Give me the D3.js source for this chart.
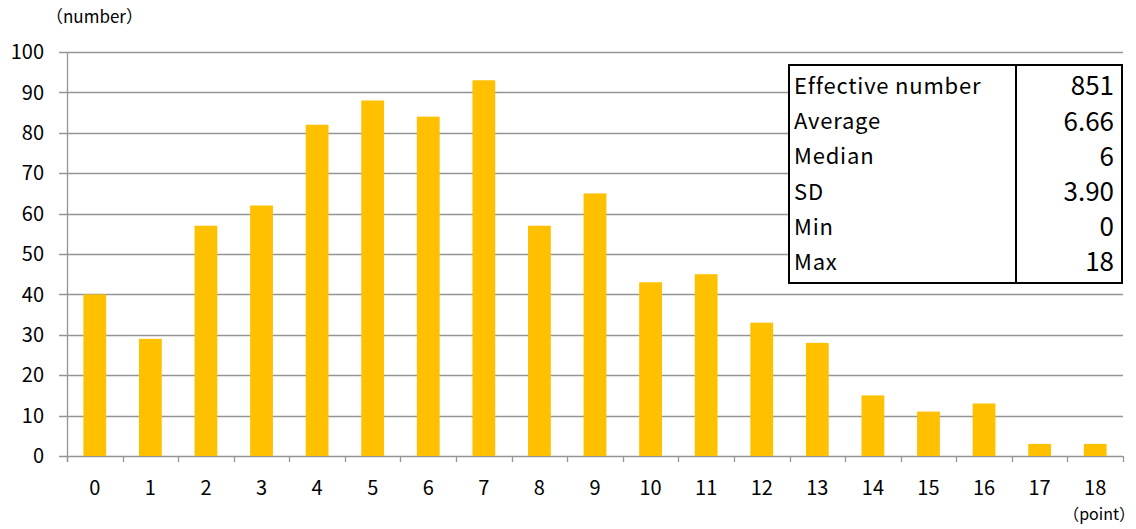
<!DOCTYPE html>
<html><head><meta charset="utf-8">
<script src="https://cdn.jsdelivr.net/npm/d3@7"></script>
<style>body{margin:0;background:#fff}svg{display:block}text{font-family:"Noto Sans CJK JP","Noto Sans",sans-serif}</style>
</head><body><svg id="c" width="1136" height="529"></svg>
<script>
const categories = ["0","1","2","3","4","5","6","7","8","9","10","11","12","13","14","15","16","17","18"];
const counts = [40,29,57,62,82,88,84,93,57,65,43,45,33,28,15,11,13,3,3];
const yTicks = [0,10,20,30,40,50,60,70,80,90,100];
const statLabels = ["Effective number","Average","Median","SD","Min","Max"];
const statValues = ["851","6.66","6","3.90","0","18"];

const svg = d3.select("#c");
const L = 67, R = 1123, T = 52, B = 456;
const x = d3.scaleBand().domain(categories).range([L, R]).paddingInner(0.59).paddingOuter(0.295);
const xb = d3.scaleBand().domain(categories).range([L, R]);
const y = d3.scaleLinear().domain([0, 100]).range([B, T]);

// gridlines
svg.append("g").selectAll("line").data(yTicks).join("line")
  .attr("x1", L - 8).attr("x2", R).attr("y1", d => Math.round(y(d)) + 0.5).attr("y2", d => Math.round(y(d)) + 0.5)
  .attr("stroke", "#959595").attr("stroke-width", 1.3);
// y axis line
svg.append("line").attr("x1", L + 0.5).attr("x2", L + 0.5).attr("y1", T).attr("y2", B + 6)
  .attr("stroke", "#959595").attr("stroke-width", 1.3);
// x ticks
svg.append("g").selectAll("line").data(categories.concat(["end"])).join("line")
  .attr("x1", (d, i) => Math.round(L + i * xb.step()) + 0.5).attr("x2", (d, i) => Math.round(L + i * xb.step()) + 0.5)
  .attr("y1", B).attr("y2", B + 6).attr("stroke", "#959595").attr("stroke-width", 1.3);

// bars
svg.append("g").selectAll("rect").data(counts).join("rect")
  .attr("x", (d, i) => x(categories[i])).attr("width", x.bandwidth())
  .attr("y", d => y(d)).attr("height", d => B - y(d)).attr("fill", "#FFC000");

// y labels
svg.append("g").selectAll("text").data(yTicks).join("text")
  .attr("x", 44).attr("y", d => y(d)).attr("dy", "0.36em").attr("text-anchor", "end")
  .attr("font-size", 20).attr("fill", "#000").text(d => d);
// x labels
svg.append("g").selectAll("text").data(categories).join("text")
  .attr("x", d => xb(d) + xb.bandwidth() / 2).attr("y", 495).attr("text-anchor", "middle")
  .attr("font-size", 20).attr("fill", "#000").text(d => d);

svg.append("text").attr("x", 46).attr("y", 23).attr("font-size", 17).text("（number）");
svg.append("text").attr("x", 1135).attr("y", 520).attr("text-anchor", "end").attr("font-size", 16).text("（point）");

// stats table
const tx0 = 789, tx1 = 1016, tx2 = 1122, ty0 = 65, ty1 = 283;
svg.append("rect").attr("x", tx0).attr("y", ty0).attr("width", tx2 - tx0).attr("height", ty1 - ty0)
  .attr("fill", "#fff").attr("stroke", "#000").attr("stroke-width", 2);
svg.append("line").attr("x1", tx1).attr("x2", tx1).attr("y1", ty0).attr("y2", ty1).attr("stroke", "#000").attr("stroke-width", 2);
const rowY = i => 86 + i * 35.2;
svg.append("g").selectAll("text").data(statLabels).join("text")
  .attr("x", tx0 + 5).attr("y", (d, i) => rowY(i)).attr("dy", "0.36em")
  .attr("font-size", 22).attr("letter-spacing", 0.8).text(d => d);
svg.append("g").selectAll("text").data(statValues).join("text")
  .attr("x", tx2 - 8).attr("y", (d, i) => rowY(i)).attr("dy", "0.36em").attr("text-anchor", "end")
  .attr("font-size", 26).text(d => d);
</script></body></html>
